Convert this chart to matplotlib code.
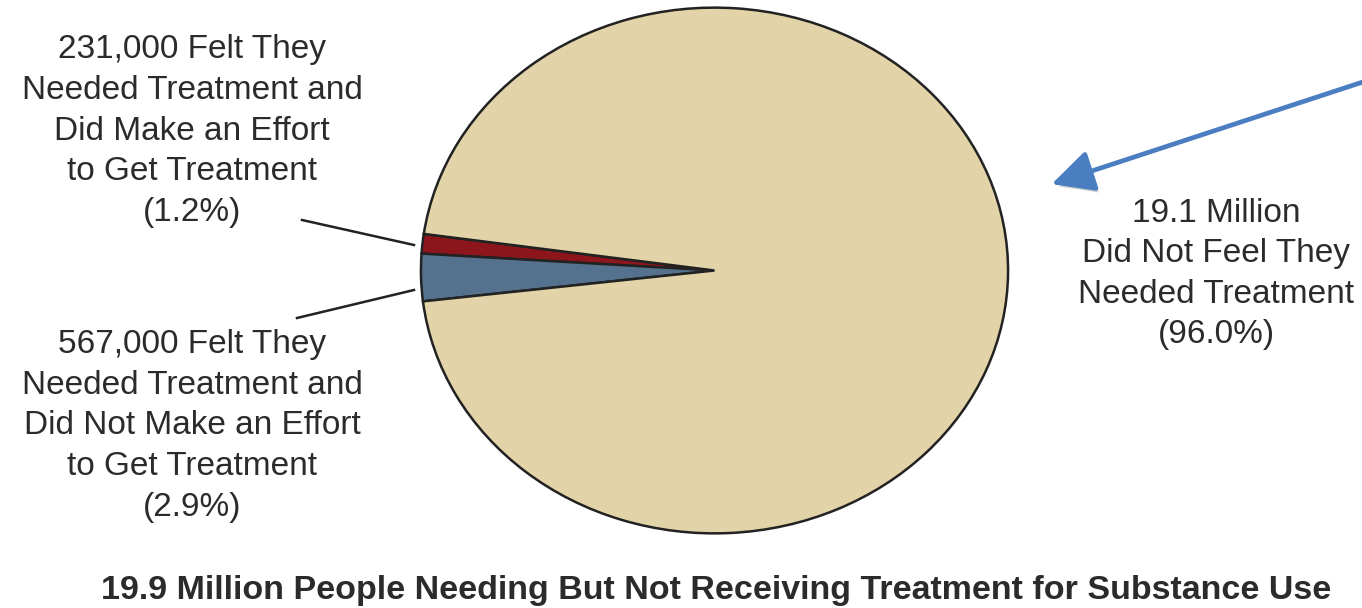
import matplotlib.pyplot as plt
import matplotlib.patheffects as pe
from matplotlib.patches import FancyArrowPatch

# slice shares (percent of 19.9 million) and their labels
shares = [1.2, 2.9, 96.0]
slice_colors = ["#8C161C", "#54728E", "#E3D3A8"]
counts = ["231,000", "567,000", "19.1 Million"]

label_effort = f"{counts[0]} Felt They\nNeeded Treatment and\nDid Make an Effort\nto Get Treatment\n({shares[0]:.1f}%)"
label_no_effort = f"{counts[1]} Felt They\nNeeded Treatment and\nDid Not Make an Effort\nto Get Treatment\n({shares[1]:.1f}%)"
label_no_need = f"{counts[2]}\nDid Not Feel They\nNeeded Treatment\n({shares[2]:.1f}%)"
title = "19.9 Million People Needing But Not Receiving Treatment for Substance Use"

W, H = 1362, 608
fig = plt.figure(figsize=(W / 100, H / 100), dpi=100)
fig.patch.set_facecolor("white")


def fx(x):
    return x / W


def fy(y):
    return 1 - y / H


# the pie is stretched a little wider than tall
ax = fig.add_axes([fx(418), fy(536), (1011 - 418) / W, (536 - 5) / H])
ax.pie(shares, colors=slice_colors, startangle=172.0, counterclock=True,
       wedgeprops=dict(edgecolor="#222222", linewidth=1.8))
ax.set_aspect("auto")
ax.set_xlim(-1.01, 1.01)
ax.set_ylim(-1.01, 1.01)
ax.axis("off")

text_kw = dict(ha="center", va="center", fontsize=24, color="#2b2b2b",
               family=["Liberation Sans", "DejaVu Sans"], linespacing=1.40,
               transform=fig.transFigure)
fig.text(fx(192), fy(131), label_effort, **text_kw)
fig.text(fx(192), fy(426), label_no_effort, **text_kw)
fig.text(fx(1216), fy(274), label_no_need, **text_kw)

fig.text(fx(716), fy(591), title, ha="center", va="center", fontsize=24.5,
         fontweight="bold", color="#2b2b2b",
         family=["Liberation Sans", "DejaVu Sans"],
         transform=fig.transFigure)

# leader lines from the labels to the thin slices
fig.add_artist(plt.Line2D([fx(302), fx(414)], [fy(220), fy(245)],
                          color="#222222", lw=1.8))
fig.add_artist(plt.Line2D([fx(297), fx(414)], [fy(318), fy(290)],
                          color="#222222", lw=1.8))

# blue pointer arrow with a soft shadow
arrow = fig.add_artist(FancyArrowPatch(
    (fx(1375), fy(78)), (fx(1049), fy(185)), transform=fig.transFigure,
    arrowstyle="-|>,head_length=16,head_width=8", mutation_scale=1.6,
    color="#4A7EC1", lw=3.4))
arrow.set_path_effects([pe.SimplePatchShadow(offset=(2, -3), shadow_rgbFace="#999999", alpha=0.45),
                        pe.Normal()])

fig.savefig("out.png", dpi=100)
